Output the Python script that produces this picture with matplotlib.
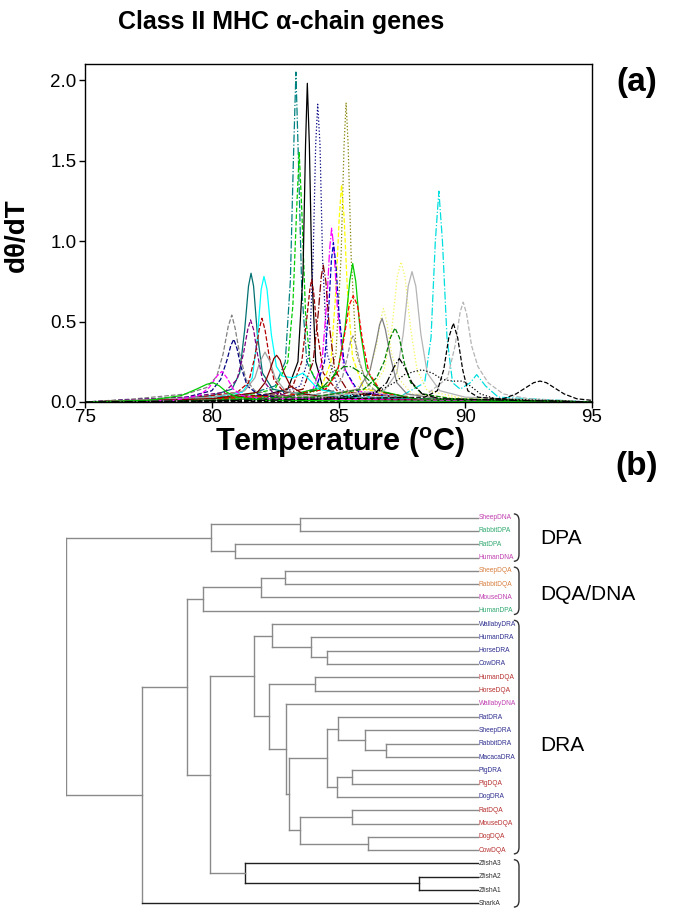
import matplotlib
matplotlib.use("Agg")
import matplotlib.pyplot as plt
from matplotlib.path import Path
from matplotlib.patches import PathPatch

plt.rcParams['font.family'] = ['Liberation Sans', 'DejaVu Sans']
plt.rcParams['mathtext.fontset'] = 'custom'
plt.rcParams['mathtext.rm'] = 'Liberation Sans'
plt.rcParams['mathtext.bf'] = 'Liberation Sans:bold'

# ---- (a) melting curves ----
melt_T = [
    [75, 78, 80, 81.5, 82.5, 82.9, 83.1, 83.22, 83.32, 83.42, 83.55, 83.75, 84.2, 85, 87, 95],
    [75, 79, 81, 82.5, 83.0, 83.2, 83.35, 83.45, 83.55, 83.7, 83.9, 84.3, 85.5, 88, 95],
    [75, 80, 82, 83.0, 83.4, 83.6, 83.7, 83.77, 83.85, 83.95, 84.1, 84.4, 85.5, 95],
    [75, 80, 82.5, 83.5, 83.85, 84.0, 84.1, 84.18, 84.27, 84.37, 84.55, 85, 86, 95],
    [75, 80, 83, 84.5, 84.9, 85.1, 85.22, 85.3, 85.38, 85.5, 85.7, 86.2, 88, 95],
    [75, 80, 83, 84.3, 84.7, 84.9, 85.03, 85.12, 85.22, 85.35, 85.55, 86.0, 88, 95],
    [75, 80, 83, 84.0, 84.35, 84.55, 84.65, 84.73, 84.82, 84.95, 85.2, 85.7, 88, 95],
    [75, 80, 83, 84.1, 84.45, 84.62, 84.72, 84.8, 84.9, 85.02, 85.25, 85.8, 88, 95],
    [75, 80, 82.5, 83.6, 84.0, 84.2, 84.32, 84.4, 84.5, 84.62, 84.85, 85.4, 88, 95],
    [75, 80, 82.5, 83.2, 83.55, 83.75, 83.87, 83.94, 84.02, 84.15, 84.4, 85, 88, 95],
    [75, 80, 83, 84.6, 85.0, 85.25, 85.45, 85.56, 85.68, 85.85, 86.1, 86.6, 88, 95],
    [75, 80, 83, 84.5, 84.95, 85.2, 85.42, 85.58, 85.75, 85.95, 86.2, 86.7, 88, 95],
    [75, 78, 80, 80.8, 81.1, 81.3, 81.45, 81.55, 81.65, 81.8, 82.0, 82.4, 83, 85, 95],
    [75, 78, 80, 81.2, 81.6, 81.8, 81.95, 82.06, 82.18, 82.35, 82.55, 82.8, 83.2, 83.6, 84.2, 86, 95],
    [75, 77, 79, 79.8, 80.2, 80.45, 80.65, 80.79, 80.92, 81.1, 81.35, 81.7, 82.5, 85, 95],
    [75, 79, 80.0, 80.35, 80.6, 80.75, 80.87, 81.0, 81.15, 81.4, 81.8, 83, 95],
    [75, 79, 80.5, 81.0, 81.25, 81.42, 81.53, 81.65, 81.8, 82.0, 82.4, 83.5, 95],
    [75, 79, 81, 81.45, 81.7, 81.87, 81.98, 82.1, 82.25, 82.45, 82.8, 84, 95],
    [75, 80, 81.3, 81.7, 81.9, 82.1, 82.3, 82.5, 82.9, 84, 95],
    [75, 80, 81.8, 82.1, 82.3, 82.45, 82.56, 82.7, 82.85, 83.1, 83.6, 85, 95],
    [75, 80, 85, 87.5, 88.4, 88.65, 88.82, 88.96, 89.1, 89.28, 89.5, 89.8, 90.2, 90.45, 90.8, 91.3, 95],
    [75, 80, 84, 86.3, 86.8, 87.1, 87.32, 87.47, 87.62, 87.85, 88.1, 88.5, 90, 95],
    [75, 80, 84, 86.8, 87.3, 87.55, 87.75, 87.9, 88.05, 88.25, 88.5, 89.0, 90, 95],
    [75, 80, 85, 88.5, 89.3, 89.6, 89.8, 89.92, 90.05, 90.25, 90.5, 90.9, 91.5, 92.5, 95],
    [75, 80, 84, 85.7, 86.2, 86.5, 86.67, 86.77, 86.9, 87.1, 87.4, 87.9, 90, 95],
    [75, 80, 84, 85.8, 86.25, 86.5, 86.62, 86.72, 86.85, 87.05, 87.3, 87.7, 89, 95],
    [75, 80, 83.5, 84.8, 85.15, 85.35, 85.48, 85.57, 85.68, 85.85, 86.1, 86.6, 88, 95],
    [75, 80, 84, 86.0, 86.5, 86.8, 87.05, 87.23, 87.4, 87.6, 87.85, 88.3, 89.5, 95],
    [75, 80, 85, 88.4, 88.9, 89.15, 89.35, 89.53, 89.7, 89.9, 90.1, 90.5, 92, 95],
    [75, 85, 90, 91.5, 92.0, 92.4, 92.7, 92.95, 93.2, 93.5, 93.9, 94.4, 95],
    [75, 82, 85, 86.5, 87.2, 87.6, 88.0, 88.3, 88.7, 89.1, 89.5, 89.9, 90.2, 90.6, 91.2, 95],
    [75, 78.5, 79.5, 79.9, 80.2, 80.4, 80.6, 80.85, 81.2, 82, 95],
    [75, 77.5, 78.8, 79.4, 79.8, 80.05, 80.3, 80.6, 81.0, 82, 95],
    [75, 80, 83, 84.3, 84.8, 85.2, 85.5, 85.9, 86.3, 86.8, 88, 95],
    [75, 82, 85, 86.4, 86.9, 87.2, 87.4, 87.6, 87.9, 88.3, 89, 95],
]
melt_v = [
    [0.0, 0.01, 0.03, 0.05, 0.1, 0.25, 0.75, 1.5, 2.05, 1.5, 0.7, 0.25, 0.1, 0.05, 0.02, 0.0],
    [0, 0.01, 0.03, 0.08, 0.25, 0.6, 1.2, 1.55, 1.2, 0.55, 0.2, 0.08, 0.03, 0.01, 0],
    [0, 0.02, 0.04, 0.08, 0.25, 0.8, 1.6, 1.98, 1.6, 0.8, 0.25, 0.08, 0.02, 0],
    [0, 0.02, 0.04, 0.1, 0.3, 0.9, 1.6, 1.85, 1.6, 0.9, 0.3, 0.08, 0.02, 0],
    [0, 0.01, 0.03, 0.08, 0.3, 0.9, 1.6, 1.86, 1.6, 0.9, 0.3, 0.08, 0.02, 0],
    [0, 0.01, 0.03, 0.08, 0.25, 0.7, 1.15, 1.35, 1.15, 0.7, 0.28, 0.08, 0.02, 0],
    [0, 0.01, 0.03, 0.08, 0.25, 0.65, 0.95, 1.08, 0.95, 0.6, 0.22, 0.07, 0.02, 0],
    [0, 0.01, 0.03, 0.08, 0.25, 0.6, 0.88, 0.99, 0.85, 0.55, 0.2, 0.06, 0.02, 0],
    [0, 0.02, 0.04, 0.08, 0.25, 0.55, 0.78, 0.85, 0.75, 0.5, 0.2, 0.06, 0.02, 0],
    [0, 0.02, 0.05, 0.1, 0.25, 0.52, 0.7, 0.76, 0.68, 0.45, 0.18, 0.06, 0.02, 0],
    [0, 0.02, 0.04, 0.1, 0.22, 0.45, 0.76, 0.86, 0.75, 0.45, 0.2, 0.07, 0.02, 0],
    [0, 0.02, 0.04, 0.08, 0.18, 0.38, 0.6, 0.66, 0.6, 0.38, 0.18, 0.06, 0.02, 0],
    [0, 0.01, 0.04, 0.08, 0.18, 0.45, 0.72, 0.80, 0.72, 0.42, 0.18, 0.08, 0.06, 0.03, 0],
    [0, 0.01, 0.03, 0.06, 0.15, 0.4, 0.7, 0.78, 0.7, 0.42, 0.22, 0.16, 0.15, 0.18, 0.08, 0.02, 0],
    [0, 0.02, 0.05, 0.09, 0.16, 0.3, 0.47, 0.54, 0.46, 0.3, 0.14, 0.07, 0.04, 0.02, 0],
    [0, 0.03, 0.07, 0.14, 0.26, 0.35, 0.39, 0.33, 0.22, 0.1, 0.05, 0.02, 0],
    [0, 0.03, 0.06, 0.14, 0.3, 0.45, 0.51, 0.45, 0.3, 0.14, 0.06, 0.02, 0],
    [0, 0.02, 0.06, 0.12, 0.28, 0.45, 0.52, 0.45, 0.3, 0.14, 0.07, 0.02, 0],
    [0, 0.03, 0.07, 0.15, 0.25, 0.31, 0.25, 0.15, 0.07, 0.02, 0],
    [0, 0.02, 0.06, 0.12, 0.2, 0.27, 0.29, 0.26, 0.18, 0.1, 0.05, 0.02, 0],
    [0, 0.01, 0.02, 0.04, 0.12, 0.4, 1.0, 1.31, 1.0, 0.4, 0.12, 0.08, 0.12, 0.17, 0.1, 0.03, 0],
    [0, 0.01, 0.03, 0.08, 0.2, 0.45, 0.78, 0.87, 0.78, 0.45, 0.2, 0.07, 0.02, 0],
    [0, 0.01, 0.03, 0.07, 0.18, 0.42, 0.72, 0.81, 0.72, 0.42, 0.18, 0.07, 0.03, 0],
    [0, 0.01, 0.02, 0.05, 0.15, 0.35, 0.56, 0.62, 0.55, 0.35, 0.22, 0.12, 0.05, 0.02, 0],
    [0, 0.01, 0.03, 0.08, 0.18, 0.35, 0.52, 0.58, 0.5, 0.3, 0.14, 0.05, 0.02, 0],
    [0, 0.01, 0.03, 0.08, 0.2, 0.38, 0.48, 0.52, 0.45, 0.28, 0.12, 0.05, 0.02, 0],
    [0, 0.01, 0.03, 0.07, 0.15, 0.28, 0.38, 0.41, 0.36, 0.24, 0.12, 0.05, 0.02, 0],
    [0, 0.01, 0.03, 0.08, 0.15, 0.25, 0.4, 0.46, 0.4, 0.24, 0.12, 0.05, 0.02, 0],
    [0, 0.01, 0.02, 0.03, 0.07, 0.2, 0.4, 0.49, 0.4, 0.2, 0.07, 0.03, 0.01, 0],
    [0, 0.005, 0.01, 0.02, 0.05, 0.09, 0.12, 0.13, 0.12, 0.09, 0.05, 0.02, 0.01],
    [0, 0.01, 0.03, 0.06, 0.12, 0.17, 0.19, 0.2, 0.18, 0.14, 0.13, 0.13, 0.1, 0.05, 0.02, 0],
    [0, 0.01, 0.04, 0.09, 0.16, 0.19, 0.15, 0.08, 0.04, 0.02, 0],
    [0, 0.01, 0.04, 0.08, 0.11, 0.12, 0.1, 0.06, 0.03, 0.01, 0],
    [0, 0.01, 0.03, 0.08, 0.16, 0.22, 0.22, 0.18, 0.12, 0.06, 0.02, 0],
    [0, 0.01, 0.02, 0.05, 0.12, 0.22, 0.27, 0.22, 0.12, 0.05, 0.02, 0],
]
x_ticks = [75, 80, 85, 90, 95]
y_ticks = [0.0, 0.5, 1.0, 1.5, 2.0]

# line styles for each curve
curve_colors = ['#008080', '#00cc00', '#000000', '#000080', '#808000', '#ffff00',
                '#ff00ff', '#0000c0', '#800000', '#990000', '#00cc00', '#ff0000',
                '#007070', '#00ffff', '#808080', '#000080', '#800080', '#b00000',
                '#a0a0a0', '#800000', '#00dede', '#f5f55a', '#b4b4b4', '#b4b4b4',
                '#f0f070', '#808080', '#909090', '#008000', '#000000', '#000000',
                '#000000', '#ff00ff', '#00cc00', '#008000', '#000000']
curve_styles = ['-.', '--', '-', ':', ':', '--',
                '-.', '--', '-.', '--', '-', '--',
                '-', '-', '--', '--', '--', '--',
                '-', '-', '-.', ':', '-', '--',
                ':', '-', '--', '--', '--', '--',
                ':', '--', '-', '-.', '-.']

# ---- (b) tree ----
leaf_names = ['SheepDNA', 'RabbitDPA', 'RatDPA', 'HumanDNA', 'SheepDQA', 'RabbitDQA',
              'MouseDNA', 'HumanDPA', 'WallabyDRA', 'HumanDRA', 'HorseDRA', 'CowDRA',
              'HumanDQA', 'HorseDQA', 'WallabyDNA', 'RatDRA', 'SheepDRA', 'RabbitDRA',
              'MacacaDRA', 'PigDRA', 'PigDQA', 'DogDRA', 'RatDQA', 'MouseDQA',
              'DogDQA', 'CowDQA', 'ZfishA3', 'ZfishA2', 'ZfishA1', 'SharkA']
# merges: (child a, child b, node depth from root); leaves are 0..29, nodes 30..
merges = [(0, 1, 0.568), (2, 3, 0.410), (30, 31, 0.352),
          (4, 5, 0.532), (33, 6, 0.474), (34, 7, 0.333),
          (10, 11, 0.634), (9, 36, 0.594), (8, 37, 0.499),
          (12, 13, 0.604), (17, 18, 0.777), (16, 40, 0.725), (15, 41, 0.659),
          (19, 20, 0.695), (43, 21, 0.657), (42, 44, 0.633),
          (22, 23, 0.695), (24, 25, 0.733), (46, 47, 0.568), (45, 48, 0.542),
          (14, 49, 0.534), (39, 50, 0.493), (38, 51, 0.456),
          (27, 28, 0.856), (26, 53, 0.434), (52, 54, 0.349),
          (35, 55, 0.294), (56, 29, 0.184), (32, 57, 0.0)]
groups = ['DPA', 'DQA/DNA', 'DRA', '']
group_first = [0, 4, 8, 26]
group_last = [3, 7, 25, 29]

c_mag, c_grn, c_org, c_blu, c_red, c_blk = '#c040b0', '#30a870', '#d88040', '#303090', '#b83030', '#303030'
leaf_colors = [c_mag, c_grn, c_grn, c_mag, c_org, c_org, c_mag, c_grn,
               c_blu, c_blu, c_blu, c_blu, c_red, c_red, c_mag, c_blu,
               c_blu, c_blu, c_blu, c_blu, c_red, c_blu, c_red, c_red,
               c_red, c_red, c_blk, c_blk, c_blk, c_blk]

fig = plt.figure(figsize=(6.73, 9.21), dpi=100)

ax = fig.add_axes([85 / 673, 1 - 402 / 921, 507 / 673, 338 / 921])
for T, v, c, ls in zip(melt_T, melt_v, curve_colors, curve_styles):
    ax.plot(T, v, color=c, linestyle=ls, linewidth=0.9)
ax.set_xlim(75, 95)
ax.set_ylim(0, 2.1)
ax.set_xticks(x_ticks)
ax.set_yticks(y_ticks)
ax.set_yticklabels(['%.1f' % t for t in y_ticks])
ax.tick_params(direction='out', length=4, width=1, labelsize=13.5, pad=2)
ax.tick_params(axis='x', pad=1)
for s in ax.spines.values():
    s.set_linewidth(1)

fig.text(281 / 673, 1 - 22 / 921, 'Class II MHC α-chain genes', ha='center', va='center',
         fontsize=18, fontweight='bold')
fig.text(17 / 673, 1 - 235 / 921, 'dθ/dT', rotation=90, ha='center', va='center',
         fontsize=20, fontweight='bold')
fig.text(340 / 673, 1 - 443 / 921, r'Temperature ($^{\mathbf{o}}$C)', ha='center', va='center',
         fontsize=22, fontweight='bold')
fig.text(637 / 673, 1 - 82 / 921, '(a)', ha='center', va='center', fontsize=24, fontweight='bold')
fig.text(637 / 673, 1 - 466 / 921, '(b)', ha='center', va='center', fontsize=24, fontweight='bold')

# dendrogram
ax2 = fig.add_axes([66 / 673, 1 - 910 / 921, 607 / 673, 399 / 921])
ax2.set_xlim(0, 607 / 412)
ax2.set_ylim(29.5, -0.5)
ax2.axis('off')

n_leaf = len(leaf_names)
node_x = [1.0] * n_leaf
node_y = list(range(n_leaf))
dark_children = {26, 27, 28, 29, 53}
dark_nodes = {53, 54}
for k, (a, b, d) in enumerate(merges):
    node = n_leaf + k
    ya, yb = node_y[a], node_y[b]
    vc = '#202020' if node in dark_nodes else '#8a8a8a'
    ax2.plot([d, d], [ya, yb], color=vc, lw=1)
    for ch in (a, b):
        hc = '#202020' if ch in dark_children else '#8a8a8a'
        ax2.plot([d, node_x[ch]], [node_y[ch], node_y[ch]], color=hc, lw=1)
    node_x.append(d)
    node_y.append((ya + yb) / 2)

for i, name in enumerate(leaf_names):
    ax2.text(1.002, i, name, fontsize=4.8, color=leaf_colors[i], va='center', ha='left')

xb, xh = 1.0995, 1.087
for g, i0, i1 in zip(groups, group_first, group_last):
    y0, y1 = i0 - 0.28, i1 + 0.28
    verts = [(xh, y0), (xb, y0), (xb, y0 + 0.5), (xb, y1 - 0.5), (xb, y1), (xh, y1)]
    codes = [Path.MOVETO, Path.CURVE3, Path.CURVE3, Path.LINETO, Path.CURVE3, Path.CURVE3]
    ax2.add_patch(PathPatch(Path(verts, codes), fill=False, edgecolor='#303030', lw=1))

group_y = [1.6, 5.75, 17.1]
for g, gy in zip(groups[:3], group_y):
    ax2.text(1.150, gy, g, fontsize=15, va='center', ha='left')

fig.savefig('out.png', dpi=100)
